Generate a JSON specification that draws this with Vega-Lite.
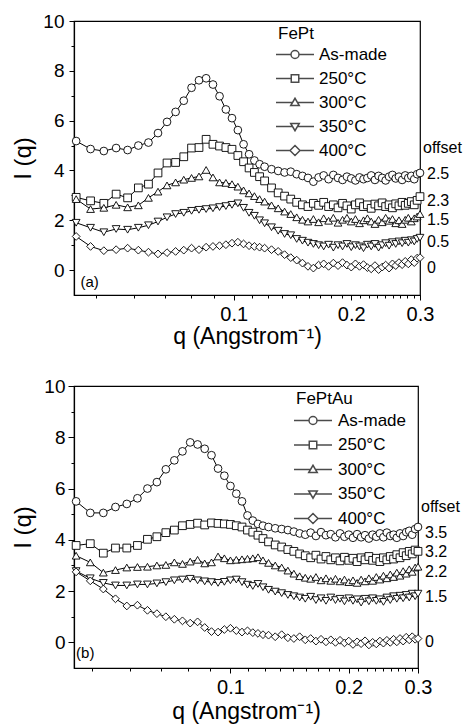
{
"$schema":"https://vega.github.io/schema/vega-lite/v6.json",
"padding":{"left":11,"top":11,"right":0,"bottom":0},
"spacing":27,
"resolve":{"scale":{"shape":"independent","x":"independent","y":"independent"},"legend":{"shape":"independent"}},
"config":{"font":"Liberation Sans","view":{"stroke":"black","strokeWidth":1.2},
"axis":{"domainColor":"black","tickColor":"black","labelColor":"black","titleColor":"black","grid":false,"labelFont":"Liberation Sans","titleFont":"Liberation Sans","titleFontWeight":"normal","domainWidth":1.2,"tickWidth":1},
"legend":{"titleFont":"Liberation Sans","labelFont":"Liberation Sans","titleColor":"black","labelColor":"black"}},
"datasets":{
"a":[
{"s":"As-made","q":0.0395,"i":5.18},{"s":"As-made","q":0.043,"i":4.86},{"s":"As-made","q":0.0465,"i":4.78},{"s":"As-made","q":0.05,"i":4.9},{"s":"As-made","q":0.0535,"i":4.82},{"s":"As-made","q":0.057,"i":5.0},{"s":"As-made","q":0.0605,"i":5.12},{"s":"As-made","q":0.064,"i":5.5},{"s":"As-made","q":0.0675,"i":5.95},{"s":"As-made","q":0.071,"i":6.35},{"s":"As-made","q":0.0745,"i":6.8},{"s":"As-made","q":0.078,"i":7.32},{"s":"As-made","q":0.0815,"i":7.62},{"s":"As-made","q":0.085,"i":7.7},{"s":"As-made","q":0.0885,"i":7.45},{"s":"As-made","q":0.092,"i":6.98},{"s":"As-made","q":0.0955,"i":6.45},{"s":"As-made","q":0.099,"i":6.1},{"s":"As-made","q":0.1025,"i":5.62},{"s":"As-made","q":0.106,"i":5.05},{"s":"As-made","q":0.1095,"i":4.65},{"s":"As-made","q":0.113,"i":4.4},{"s":"As-made","q":0.1165,"i":4.25},{"s":"As-made","q":0.12,"i":4.15},
{"s":"As-made","q":0.125,"i":4.05},{"s":"As-made","q":0.13,"i":3.98},{"s":"As-made","q":0.135,"i":3.92},{"s":"As-made","q":0.14,"i":3.95},{"s":"As-made","q":0.145,"i":3.85},{"s":"As-made","q":0.15,"i":3.78},{"s":"As-made","q":0.155,"i":3.7},{"s":"As-made","q":0.16,"i":3.55},{"s":"As-made","q":0.165,"i":3.72},{"s":"As-made","q":0.17,"i":3.8},{"s":"As-made","q":0.175,"i":3.65},{"s":"As-made","q":0.18,"i":3.82},{"s":"As-made","q":0.185,"i":3.7},{"s":"As-made","q":0.19,"i":3.62},{"s":"As-made","q":0.195,"i":3.75},{"s":"As-made","q":0.2,"i":3.68},{"s":"As-made","q":0.205,"i":3.6},{"s":"As-made","q":0.21,"i":3.72},{"s":"As-made","q":0.215,"i":3.65},{"s":"As-made","q":0.22,"i":3.7},{"s":"As-made","q":0.225,"i":3.8},{"s":"As-made","q":0.23,"i":3.62},{"s":"As-made","q":0.235,"i":3.78},{"s":"As-made","q":0.24,"i":3.7},{"s":"As-made","q":0.245,"i":3.6},{"s":"As-made","q":0.25,"i":3.75},{"s":"As-made","q":0.255,"i":3.82},{"s":"As-made","q":0.26,"i":3.68},{"s":"As-made","q":0.265,"i":3.75},{"s":"As-made","q":0.27,"i":3.62},{"s":"As-made","q":0.275,"i":3.8},{"s":"As-made","q":0.28,"i":3.7},{"s":"As-made","q":0.285,"i":3.78},{"s":"As-made","q":0.29,"i":3.65},{"s":"As-made","q":0.295,"i":3.85},{"s":"As-made","q":0.3,"i":3.9},
{"s":"250°C","q":0.0395,"i":2.92},{"s":"250°C","q":0.043,"i":2.78},{"s":"250°C","q":0.0465,"i":2.68},{"s":"250°C","q":0.05,"i":3.05},{"s":"250°C","q":0.0535,"i":2.9},{"s":"250°C","q":0.057,"i":3.3},{"s":"250°C","q":0.0605,"i":3.45},{"s":"250°C","q":0.064,"i":3.9},{"s":"250°C","q":0.0675,"i":4.3},{"s":"250°C","q":0.071,"i":4.32},{"s":"250°C","q":0.0745,"i":4.55},{"s":"250°C","q":0.078,"i":4.9},{"s":"250°C","q":0.0815,"i":4.92},{"s":"250°C","q":0.085,"i":5.25},{"s":"250°C","q":0.0885,"i":5.05},{"s":"250°C","q":0.092,"i":4.98},{"s":"250°C","q":0.0955,"i":4.92},{"s":"250°C","q":0.099,"i":4.85},{"s":"250°C","q":0.1025,"i":4.6},{"s":"250°C","q":0.106,"i":4.35},{"s":"250°C","q":0.1095,"i":4.1},{"s":"250°C","q":0.113,"i":3.92},{"s":"250°C","q":0.1165,"i":3.75},{"s":"250°C","q":0.12,"i":3.58},
{"s":"250°C","q":0.125,"i":3.3},{"s":"250°C","q":0.13,"i":3.1},{"s":"250°C","q":0.135,"i":2.97},{"s":"250°C","q":0.14,"i":2.85},{"s":"250°C","q":0.145,"i":2.72},{"s":"250°C","q":0.15,"i":2.62},{"s":"250°C","q":0.155,"i":2.55},{"s":"250°C","q":0.16,"i":2.68},{"s":"250°C","q":0.165,"i":2.6},{"s":"250°C","q":0.17,"i":2.72},{"s":"250°C","q":0.175,"i":2.55},{"s":"250°C","q":0.18,"i":2.62},{"s":"250°C","q":0.185,"i":2.5},{"s":"250°C","q":0.19,"i":2.68},{"s":"250°C","q":0.195,"i":2.58},{"s":"250°C","q":0.2,"i":2.45},{"s":"250°C","q":0.205,"i":2.62},{"s":"250°C","q":0.21,"i":2.7},{"s":"250°C","q":0.215,"i":2.55},{"s":"250°C","q":0.22,"i":2.62},{"s":"250°C","q":0.225,"i":2.48},{"s":"250°C","q":0.23,"i":2.65},{"s":"250°C","q":0.235,"i":2.58},{"s":"250°C","q":0.24,"i":2.7},{"s":"250°C","q":0.245,"i":2.55},{"s":"250°C","q":0.25,"i":2.62},{"s":"250°C","q":0.255,"i":2.5},{"s":"250°C","q":0.26,"i":2.66},{"s":"250°C","q":0.265,"i":2.58},{"s":"250°C","q":0.27,"i":2.72},{"s":"250°C","q":0.275,"i":2.6},{"s":"250°C","q":0.28,"i":2.68},{"s":"250°C","q":0.285,"i":2.75},{"s":"250°C","q":0.29,"i":2.62},{"s":"250°C","q":0.295,"i":2.8},{"s":"250°C","q":0.3,"i":2.95},
{"s":"300°C","q":0.0395,"i":2.85},{"s":"300°C","q":0.043,"i":2.45},{"s":"300°C","q":0.0465,"i":2.5},{"s":"300°C","q":0.05,"i":2.62},{"s":"300°C","q":0.0535,"i":2.52},{"s":"300°C","q":0.057,"i":2.6},{"s":"300°C","q":0.0605,"i":2.9},{"s":"300°C","q":0.064,"i":3.15},{"s":"300°C","q":0.0675,"i":3.4},{"s":"300°C","q":0.071,"i":3.52},{"s":"300°C","q":0.0745,"i":3.63},{"s":"300°C","q":0.078,"i":3.7},{"s":"300°C","q":0.0815,"i":3.76},{"s":"300°C","q":0.085,"i":4.02},{"s":"300°C","q":0.0885,"i":3.72},{"s":"300°C","q":0.092,"i":3.52},{"s":"300°C","q":0.0955,"i":3.5},{"s":"300°C","q":0.099,"i":3.45},{"s":"300°C","q":0.1025,"i":3.35},{"s":"300°C","q":0.106,"i":3.2},{"s":"300°C","q":0.1095,"i":3.08},{"s":"300°C","q":0.113,"i":2.97},{"s":"300°C","q":0.1165,"i":2.85},{"s":"300°C","q":0.12,"i":2.75},
{"s":"300°C","q":0.125,"i":2.6},{"s":"300°C","q":0.13,"i":2.48},{"s":"300°C","q":0.135,"i":2.35},{"s":"300°C","q":0.14,"i":2.25},{"s":"300°C","q":0.145,"i":2.12},{"s":"300°C","q":0.15,"i":2.02},{"s":"300°C","q":0.155,"i":1.95},{"s":"300°C","q":0.16,"i":2.05},{"s":"300°C","q":0.165,"i":1.92},{"s":"300°C","q":0.17,"i":2.08},{"s":"300°C","q":0.175,"i":1.98},{"s":"300°C","q":0.18,"i":2.1},{"s":"300°C","q":0.185,"i":1.9},{"s":"300°C","q":0.19,"i":2.02},{"s":"300°C","q":0.195,"i":2.1},{"s":"300°C","q":0.2,"i":1.95},{"s":"300°C","q":0.205,"i":2.05},{"s":"300°C","q":0.21,"i":1.88},{"s":"300°C","q":0.215,"i":2.0},{"s":"300°C","q":0.22,"i":2.08},{"s":"300°C","q":0.225,"i":1.95},{"s":"300°C","q":0.23,"i":1.85},{"s":"300°C","q":0.235,"i":2.02},{"s":"300°C","q":0.24,"i":1.92},{"s":"300°C","q":0.245,"i":2.1},{"s":"300°C","q":0.25,"i":1.98},{"s":"300°C","q":0.255,"i":2.05},{"s":"300°C","q":0.26,"i":1.88},{"s":"300°C","q":0.265,"i":2.0},{"s":"300°C","q":0.27,"i":1.85},{"s":"300°C","q":0.275,"i":2.02},{"s":"300°C","q":0.28,"i":2.1},{"s":"300°C","q":0.285,"i":1.95},{"s":"300°C","q":0.29,"i":2.08},{"s":"300°C","q":0.295,"i":2.15},{"s":"300°C","q":0.3,"i":2.25},
{"s":"350°C","q":0.0395,"i":1.9},{"s":"350°C","q":0.043,"i":1.7},{"s":"350°C","q":0.0465,"i":1.52},{"s":"350°C","q":0.05,"i":1.65},{"s":"350°C","q":0.0535,"i":1.62},{"s":"350°C","q":0.057,"i":1.7},{"s":"350°C","q":0.0605,"i":1.8},{"s":"350°C","q":0.064,"i":1.95},{"s":"350°C","q":0.0675,"i":2.12},{"s":"350°C","q":0.071,"i":2.25},{"s":"350°C","q":0.0745,"i":2.3},{"s":"350°C","q":0.078,"i":2.38},{"s":"350°C","q":0.0815,"i":2.42},{"s":"350°C","q":0.085,"i":2.45},{"s":"350°C","q":0.0885,"i":2.48},{"s":"350°C","q":0.092,"i":2.53},{"s":"350°C","q":0.0955,"i":2.57},{"s":"350°C","q":0.099,"i":2.62},{"s":"350°C","q":0.1025,"i":2.68},{"s":"350°C","q":0.106,"i":2.5},{"s":"350°C","q":0.1095,"i":2.3},{"s":"350°C","q":0.113,"i":2.18},{"s":"350°C","q":0.1165,"i":2.0},{"s":"350°C","q":0.12,"i":1.88},
{"s":"350°C","q":0.125,"i":1.72},{"s":"350°C","q":0.13,"i":1.58},{"s":"350°C","q":0.135,"i":1.45},{"s":"350°C","q":0.14,"i":1.4},{"s":"350°C","q":0.145,"i":1.25},{"s":"350°C","q":0.15,"i":1.18},{"s":"350°C","q":0.155,"i":1.1},{"s":"350°C","q":0.16,"i":1.05},{"s":"350°C","q":0.165,"i":1.0},{"s":"350°C","q":0.17,"i":0.95},{"s":"350°C","q":0.175,"i":1.02},{"s":"350°C","q":0.18,"i":0.9},{"s":"350°C","q":0.185,"i":1.0},{"s":"350°C","q":0.19,"i":0.95},{"s":"350°C","q":0.195,"i":1.05},{"s":"350°C","q":0.2,"i":0.92},{"s":"350°C","q":0.205,"i":1.0},{"s":"350°C","q":0.21,"i":0.95},{"s":"350°C","q":0.215,"i":0.88},{"s":"350°C","q":0.22,"i":1.02},{"s":"350°C","q":0.225,"i":0.95},{"s":"350°C","q":0.23,"i":1.05},{"s":"350°C","q":0.235,"i":0.9},{"s":"350°C","q":0.24,"i":1.0},{"s":"350°C","q":0.245,"i":1.08},{"s":"350°C","q":0.25,"i":0.98},{"s":"350°C","q":0.255,"i":1.12},{"s":"350°C","q":0.26,"i":1.05},{"s":"350°C","q":0.265,"i":1.15},{"s":"350°C","q":0.27,"i":1.08},{"s":"350°C","q":0.275,"i":1.18},{"s":"350°C","q":0.28,"i":1.1},{"s":"350°C","q":0.285,"i":1.2},{"s":"350°C","q":0.29,"i":1.15},{"s":"350°C","q":0.295,"i":1.25},{"s":"350°C","q":0.3,"i":1.3},
{"s":"400°C","q":0.0395,"i":1.35},{"s":"400°C","q":0.043,"i":0.95},{"s":"400°C","q":0.0465,"i":0.78},{"s":"400°C","q":0.05,"i":0.82},{"s":"400°C","q":0.0535,"i":0.88},{"s":"400°C","q":0.057,"i":0.8},{"s":"400°C","q":0.0605,"i":0.72},{"s":"400°C","q":0.064,"i":0.65},{"s":"400°C","q":0.0675,"i":0.7},{"s":"400°C","q":0.071,"i":0.75},{"s":"400°C","q":0.0745,"i":0.8},{"s":"400°C","q":0.078,"i":0.88},{"s":"400°C","q":0.0815,"i":0.82},{"s":"400°C","q":0.085,"i":0.92},{"s":"400°C","q":0.0885,"i":0.95},{"s":"400°C","q":0.092,"i":0.98},{"s":"400°C","q":0.0955,"i":1.02},{"s":"400°C","q":0.099,"i":1.08},{"s":"400°C","q":0.1025,"i":1.12},{"s":"400°C","q":0.106,"i":1.05},{"s":"400°C","q":0.1095,"i":0.98},{"s":"400°C","q":0.113,"i":0.95},{"s":"400°C","q":0.1165,"i":0.92},{"s":"400°C","q":0.12,"i":0.88},
{"s":"400°C","q":0.125,"i":0.82},{"s":"400°C","q":0.13,"i":0.75},{"s":"400°C","q":0.135,"i":0.62},{"s":"400°C","q":0.14,"i":0.5},{"s":"400°C","q":0.145,"i":0.4},{"s":"400°C","q":0.15,"i":0.28},{"s":"400°C","q":0.155,"i":0.15},{"s":"400°C","q":0.16,"i":0.08},{"s":"400°C","q":0.165,"i":0.2},{"s":"400°C","q":0.17,"i":0.25},{"s":"400°C","q":0.175,"i":0.15},{"s":"400°C","q":0.18,"i":0.28},{"s":"400°C","q":0.185,"i":0.18},{"s":"400°C","q":0.19,"i":0.3},{"s":"400°C","q":0.195,"i":0.2},{"s":"400°C","q":0.2,"i":0.12},{"s":"400°C","q":0.205,"i":0.25},{"s":"400°C","q":0.21,"i":0.15},{"s":"400°C","q":0.215,"i":0.22},{"s":"400°C","q":0.22,"i":0.1},{"s":"400°C","q":0.225,"i":0.05},{"s":"400°C","q":0.23,"i":0.18},{"s":"400°C","q":0.235,"i":0.02},{"s":"400°C","q":0.24,"i":0.12},{"s":"400°C","q":0.245,"i":0.2},{"s":"400°C","q":0.25,"i":0.08},{"s":"400°C","q":0.255,"i":0.25},{"s":"400°C","q":0.26,"i":0.18},{"s":"400°C","q":0.265,"i":0.3},{"s":"400°C","q":0.27,"i":0.22},{"s":"400°C","q":0.275,"i":0.35},{"s":"400°C","q":0.28,"i":0.25},{"s":"400°C","q":0.285,"i":0.42},{"s":"400°C","q":0.29,"i":0.3},{"s":"400°C","q":0.295,"i":0.48},{"s":"400°C","q":0.3,"i":0.5}
],
"b":[
{"s":"As-made","q":0.0405,"i":5.5},{"s":"As-made","q":0.044,"i":5.05},{"s":"As-made","q":0.0475,"i":5.05},{"s":"As-made","q":0.051,"i":5.28},{"s":"As-made","q":0.0545,"i":5.4},{"s":"As-made","q":0.058,"i":5.62},{"s":"As-made","q":0.0615,"i":6.0},{"s":"As-made","q":0.065,"i":6.25},{"s":"As-made","q":0.0685,"i":6.75},{"s":"As-made","q":0.072,"i":7.1},{"s":"As-made","q":0.0755,"i":7.45},{"s":"As-made","q":0.079,"i":7.8},{"s":"As-made","q":0.0825,"i":7.72},{"s":"As-made","q":0.086,"i":7.55},{"s":"As-made","q":0.0895,"i":7.3},{"s":"As-made","q":0.093,"i":6.78},{"s":"As-made","q":0.0965,"i":6.5},{"s":"As-made","q":0.1,"i":6.1},{"s":"As-made","q":0.1035,"i":5.8},{"s":"As-made","q":0.107,"i":5.5},{"s":"As-made","q":0.1105,"i":4.95},{"s":"As-made","q":0.114,"i":4.75},{"s":"As-made","q":0.1175,"i":4.62},{"s":"As-made","q":0.121,"i":4.55},
{"s":"As-made","q":0.125,"i":4.5},{"s":"As-made","q":0.13,"i":4.45},{"s":"As-made","q":0.135,"i":4.42},{"s":"As-made","q":0.14,"i":4.38},{"s":"As-made","q":0.145,"i":4.32},{"s":"As-made","q":0.15,"i":4.25},{"s":"As-made","q":0.155,"i":4.2},{"s":"As-made","q":0.16,"i":4.28},{"s":"As-made","q":0.165,"i":4.15},{"s":"As-made","q":0.17,"i":4.3},{"s":"As-made","q":0.175,"i":4.18},{"s":"As-made","q":0.18,"i":4.22},{"s":"As-made","q":0.185,"i":4.1},{"s":"As-made","q":0.19,"i":4.25},{"s":"As-made","q":0.195,"i":4.12},{"s":"As-made","q":0.2,"i":4.2},{"s":"As-made","q":0.205,"i":4.08},{"s":"As-made","q":0.21,"i":4.22},{"s":"As-made","q":0.215,"i":4.1},{"s":"As-made","q":0.22,"i":4.18},{"s":"As-made","q":0.225,"i":4.05},{"s":"As-made","q":0.23,"i":4.2},{"s":"As-made","q":0.235,"i":4.12},{"s":"As-made","q":0.24,"i":4.25},{"s":"As-made","q":0.245,"i":4.1},{"s":"As-made","q":0.25,"i":4.28},{"s":"As-made","q":0.255,"i":4.15},{"s":"As-made","q":0.26,"i":4.2},{"s":"As-made","q":0.265,"i":4.08},{"s":"As-made","q":0.27,"i":4.25},{"s":"As-made","q":0.275,"i":4.15},{"s":"As-made","q":0.28,"i":4.3},{"s":"As-made","q":0.285,"i":4.35},{"s":"As-made","q":0.29,"i":4.2},{"s":"As-made","q":0.295,"i":4.42},{"s":"As-made","q":0.3,"i":4.5},
{"s":"250°C","q":0.0405,"i":3.78},{"s":"250°C","q":0.044,"i":3.85},{"s":"250°C","q":0.0475,"i":3.48},{"s":"250°C","q":0.051,"i":3.68},{"s":"250°C","q":0.0545,"i":3.68},{"s":"250°C","q":0.058,"i":3.78},{"s":"250°C","q":0.0615,"i":4.02},{"s":"250°C","q":0.065,"i":4.12},{"s":"250°C","q":0.0685,"i":4.28},{"s":"250°C","q":0.072,"i":4.38},{"s":"250°C","q":0.0755,"i":4.55},{"s":"250°C","q":0.079,"i":4.6},{"s":"250°C","q":0.0825,"i":4.65},{"s":"250°C","q":0.086,"i":4.58},{"s":"250°C","q":0.0895,"i":4.66},{"s":"250°C","q":0.093,"i":4.64},{"s":"250°C","q":0.0965,"i":4.62},{"s":"250°C","q":0.1,"i":4.6},{"s":"250°C","q":0.1035,"i":4.55},{"s":"250°C","q":0.107,"i":4.5},{"s":"250°C","q":0.1105,"i":4.38},{"s":"250°C","q":0.114,"i":4.3},{"s":"250°C","q":0.1175,"i":4.18},{"s":"250°C","q":0.121,"i":4.05},
{"s":"250°C","q":0.125,"i":3.92},{"s":"250°C","q":0.13,"i":3.8},{"s":"250°C","q":0.135,"i":3.72},{"s":"250°C","q":0.14,"i":3.62},{"s":"250°C","q":0.145,"i":3.55},{"s":"250°C","q":0.15,"i":3.45},{"s":"250°C","q":0.155,"i":3.38},{"s":"250°C","q":0.16,"i":3.3},{"s":"250°C","q":0.165,"i":3.4},{"s":"250°C","q":0.17,"i":3.25},{"s":"250°C","q":0.175,"i":3.35},{"s":"250°C","q":0.18,"i":3.22},{"s":"250°C","q":0.185,"i":3.3},{"s":"250°C","q":0.19,"i":3.18},{"s":"250°C","q":0.195,"i":3.32},{"s":"250°C","q":0.2,"i":3.2},{"s":"250°C","q":0.205,"i":3.28},{"s":"250°C","q":0.21,"i":3.15},{"s":"250°C","q":0.215,"i":3.3},{"s":"250°C","q":0.22,"i":3.22},{"s":"250°C","q":0.225,"i":3.35},{"s":"250°C","q":0.23,"i":3.2},{"s":"250°C","q":0.235,"i":3.28},{"s":"250°C","q":0.24,"i":3.15},{"s":"250°C","q":0.245,"i":3.3},{"s":"250°C","q":0.25,"i":3.22},{"s":"250°C","q":0.255,"i":3.35},{"s":"250°C","q":0.26,"i":3.25},{"s":"250°C","q":0.265,"i":3.42},{"s":"250°C","q":0.27,"i":3.3},{"s":"250°C","q":0.275,"i":3.5},{"s":"250°C","q":0.28,"i":3.38},{"s":"250°C","q":0.285,"i":3.55},{"s":"250°C","q":0.29,"i":3.45},{"s":"250°C","q":0.295,"i":3.6},{"s":"250°C","q":0.3,"i":3.55},
{"s":"300°C","q":0.0405,"i":3.38},{"s":"300°C","q":0.044,"i":3.12},{"s":"300°C","q":0.0475,"i":2.72},{"s":"300°C","q":0.051,"i":2.82},{"s":"300°C","q":0.0545,"i":2.92},{"s":"300°C","q":0.058,"i":2.94},{"s":"300°C","q":0.0615,"i":2.95},{"s":"300°C","q":0.065,"i":3.0},{"s":"300°C","q":0.0685,"i":3.02},{"s":"300°C","q":0.072,"i":3.12},{"s":"300°C","q":0.0755,"i":3.06},{"s":"300°C","q":0.079,"i":3.15},{"s":"300°C","q":0.0825,"i":3.22},{"s":"300°C","q":0.086,"i":3.08},{"s":"300°C","q":0.0895,"i":3.12},{"s":"300°C","q":0.093,"i":3.35},{"s":"300°C","q":0.0965,"i":3.28},{"s":"300°C","q":0.1,"i":3.2},{"s":"300°C","q":0.1035,"i":3.22},{"s":"300°C","q":0.107,"i":3.24},{"s":"300°C","q":0.1105,"i":3.26},{"s":"300°C","q":0.114,"i":3.28},{"s":"300°C","q":0.1175,"i":3.32},{"s":"300°C","q":0.121,"i":3.2},
{"s":"300°C","q":0.125,"i":3.1},{"s":"300°C","q":0.13,"i":3.0},{"s":"300°C","q":0.135,"i":2.92},{"s":"300°C","q":0.14,"i":2.8},{"s":"300°C","q":0.145,"i":2.68},{"s":"300°C","q":0.15,"i":2.58},{"s":"300°C","q":0.155,"i":2.52},{"s":"300°C","q":0.16,"i":2.48},{"s":"300°C","q":0.165,"i":2.55},{"s":"300°C","q":0.17,"i":2.42},{"s":"300°C","q":0.175,"i":2.5},{"s":"300°C","q":0.18,"i":2.4},{"s":"300°C","q":0.185,"i":2.48},{"s":"300°C","q":0.19,"i":2.38},{"s":"300°C","q":0.195,"i":2.45},{"s":"300°C","q":0.2,"i":2.35},{"s":"300°C","q":0.205,"i":2.42},{"s":"300°C","q":0.21,"i":2.32},{"s":"300°C","q":0.215,"i":2.45},{"s":"300°C","q":0.22,"i":2.38},{"s":"300°C","q":0.225,"i":2.5},{"s":"300°C","q":0.23,"i":2.4},{"s":"300°C","q":0.235,"i":2.55},{"s":"300°C","q":0.24,"i":2.45},{"s":"300°C","q":0.245,"i":2.6},{"s":"300°C","q":0.25,"i":2.5},{"s":"300°C","q":0.255,"i":2.65},{"s":"300°C","q":0.26,"i":2.55},{"s":"300°C","q":0.265,"i":2.72},{"s":"300°C","q":0.27,"i":2.6},{"s":"300°C","q":0.275,"i":2.78},{"s":"300°C","q":0.28,"i":2.68},{"s":"300°C","q":0.285,"i":2.85},{"s":"300°C","q":0.29,"i":2.75},{"s":"300°C","q":0.295,"i":2.92},{"s":"300°C","q":0.3,"i":2.95},
{"s":"350°C","q":0.0405,"i":2.78},{"s":"350°C","q":0.044,"i":2.5},{"s":"350°C","q":0.0475,"i":2.32},{"s":"350°C","q":0.051,"i":2.22},{"s":"350°C","q":0.0545,"i":2.22},{"s":"350°C","q":0.058,"i":2.26},{"s":"350°C","q":0.0615,"i":2.26},{"s":"350°C","q":0.065,"i":2.3},{"s":"350°C","q":0.0685,"i":2.35},{"s":"350°C","q":0.072,"i":2.42},{"s":"350°C","q":0.0755,"i":2.45},{"s":"350°C","q":0.079,"i":2.48},{"s":"350°C","q":0.0825,"i":2.42},{"s":"350°C","q":0.086,"i":2.38},{"s":"350°C","q":0.0895,"i":2.35},{"s":"350°C","q":0.093,"i":2.32},{"s":"350°C","q":0.0965,"i":2.36},{"s":"350°C","q":0.1,"i":2.42},{"s":"350°C","q":0.1035,"i":2.45},{"s":"350°C","q":0.107,"i":2.35},{"s":"350°C","q":0.1105,"i":2.25},{"s":"350°C","q":0.114,"i":2.2},{"s":"350°C","q":0.1175,"i":2.28},{"s":"350°C","q":0.121,"i":2.15},
{"s":"350°C","q":0.125,"i":2.05},{"s":"350°C","q":0.13,"i":1.98},{"s":"350°C","q":0.135,"i":1.92},{"s":"350°C","q":0.14,"i":1.85},{"s":"350°C","q":0.145,"i":1.8},{"s":"350°C","q":0.15,"i":1.75},{"s":"350°C","q":0.155,"i":1.7},{"s":"350°C","q":0.16,"i":1.78},{"s":"350°C","q":0.165,"i":1.65},{"s":"350°C","q":0.17,"i":1.72},{"s":"350°C","q":0.175,"i":1.62},{"s":"350°C","q":0.18,"i":1.75},{"s":"350°C","q":0.185,"i":1.65},{"s":"350°C","q":0.19,"i":1.7},{"s":"350°C","q":0.195,"i":1.6},{"s":"350°C","q":0.2,"i":1.72},{"s":"350°C","q":0.205,"i":1.62},{"s":"350°C","q":0.21,"i":1.68},{"s":"350°C","q":0.215,"i":1.55},{"s":"350°C","q":0.22,"i":1.7},{"s":"350°C","q":0.225,"i":1.6},{"s":"350°C","q":0.23,"i":1.72},{"s":"350°C","q":0.235,"i":1.62},{"s":"350°C","q":0.24,"i":1.68},{"s":"350°C","q":0.245,"i":1.58},{"s":"350°C","q":0.25,"i":1.75},{"s":"350°C","q":0.255,"i":1.65},{"s":"350°C","q":0.26,"i":1.8},{"s":"350°C","q":0.265,"i":1.7},{"s":"350°C","q":0.27,"i":1.82},{"s":"350°C","q":0.275,"i":1.72},{"s":"350°C","q":0.28,"i":1.85},{"s":"350°C","q":0.285,"i":1.75},{"s":"350°C","q":0.29,"i":1.9},{"s":"350°C","q":0.295,"i":1.8},{"s":"350°C","q":0.3,"i":1.9},
{"s":"400°C","q":0.0405,"i":2.75},{"s":"400°C","q":0.044,"i":2.4},{"s":"400°C","q":0.0475,"i":2.08},{"s":"400°C","q":0.051,"i":1.7},{"s":"400°C","q":0.0545,"i":1.42},{"s":"400°C","q":0.058,"i":1.45},{"s":"400°C","q":0.0615,"i":1.25},{"s":"400°C","q":0.065,"i":1.12},{"s":"400°C","q":0.0685,"i":1.0},{"s":"400°C","q":0.072,"i":0.9},{"s":"400°C","q":0.0755,"i":0.84},{"s":"400°C","q":0.079,"i":0.75},{"s":"400°C","q":0.0825,"i":0.8},{"s":"400°C","q":0.086,"i":0.58},{"s":"400°C","q":0.0895,"i":0.42},{"s":"400°C","q":0.093,"i":0.4},{"s":"400°C","q":0.0965,"i":0.5},{"s":"400°C","q":0.1,"i":0.55},{"s":"400°C","q":0.1035,"i":0.46},{"s":"400°C","q":0.107,"i":0.4},{"s":"400°C","q":0.1105,"i":0.45},{"s":"400°C","q":0.114,"i":0.38},{"s":"400°C","q":0.1175,"i":0.35},{"s":"400°C","q":0.121,"i":0.3},
{"s":"400°C","q":0.125,"i":0.28},{"s":"400°C","q":0.13,"i":0.22},{"s":"400°C","q":0.135,"i":0.3},{"s":"400°C","q":0.14,"i":0.18},{"s":"400°C","q":0.145,"i":0.15},{"s":"400°C","q":0.15,"i":0.22},{"s":"400°C","q":0.155,"i":0.1},{"s":"400°C","q":0.16,"i":0.15},{"s":"400°C","q":0.165,"i":0.05},{"s":"400°C","q":0.17,"i":0.12},{"s":"400°C","q":0.175,"i":0.02},{"s":"400°C","q":0.18,"i":0.1},{"s":"400°C","q":0.185,"i":0.0},{"s":"400°C","q":0.19,"i":0.08},{"s":"400°C","q":0.195,"i":-0.02},{"s":"400°C","q":0.2,"i":0.05},{"s":"400°C","q":0.205,"i":-0.08},{"s":"400°C","q":0.21,"i":0.02},{"s":"400°C","q":0.215,"i":-0.05},{"s":"400°C","q":0.22,"i":0.06},{"s":"400°C","q":0.225,"i":-0.1},{"s":"400°C","q":0.23,"i":0.0},{"s":"400°C","q":0.235,"i":-0.06},{"s":"400°C","q":0.24,"i":0.05},{"s":"400°C","q":0.245,"i":-0.03},{"s":"400°C","q":0.25,"i":0.08},{"s":"400°C","q":0.255,"i":0.0},{"s":"400°C","q":0.26,"i":0.12},{"s":"400°C","q":0.265,"i":0.02},{"s":"400°C","q":0.27,"i":0.15},{"s":"400°C","q":0.275,"i":0.05},{"s":"400°C","q":0.28,"i":0.2},{"s":"400°C","q":0.285,"i":0.1},{"s":"400°C","q":0.29,"i":0.22},{"s":"400°C","q":0.295,"i":0.12},{"s":"400°C","q":0.3,"i":0.15}
],
"offa":[{"t":"2.5","i":3.86},{"t":"2.3","i":2.77},{"t":"1.5","i":2.0},{"t":"0.5","i":1.12},{"t":"0","i":0.08}],
"offb":[{"t":"3.5","i":4.27},{"t":"3.2","i":3.53},{"t":"2.2","i":2.75},{"t":"1.5","i":1.76},{"t":"0","i":0.0}]
},
"vconcat":[
{
"width":346,"height":274,
"resolve":{"axis":{"x":"independent","y":"independent"},"scale":{"shape":"independent"},"legend":{"shape":"independent"}},
"layer":[
{"data":{"name":"a"},"mark":{"type":"line","color":"black","strokeWidth":1},
"encoding":{
"x":{"field":"q","type":"quantitative","scale":{"type":"log","domain":[0.039,0.3],"nice":false},"axis":{"orient":"bottom","values":[0.1,0.2,0.3],"format":".1f","title":"q (Angstrom⁻¹)","labelFontSize":20,"titleFontSize":23,"tickSize":5,"labelPadding":4,"titlePadding":1,"labelFlush":false}},
"y":{"field":"i","type":"quantitative","scale":{"domain":[-1,10],"nice":false,"zero":false},"axis":{"orient":"left","values":[0,2,4,6,8,10],"title":"I (q)","labelFontSize":19,"titleFontSize":24,"tickSize":5,"labelPadding":5,"titlePadding":7}},
"detail":{"field":"s"}}},
{"data":{"name":"a"},"mark":{"type":"point","filled":true,"fill":"white","stroke":"black","strokeWidth":0.9,"size":60,"opacity":1},
"encoding":{
"x":{"field":"q","type":"quantitative","scale":{"type":"log","domain":[0.039,0.3],"nice":false},"axis":{"orient":"bottom","values":[0.04444,0.05556,0.06667,0.07778,0.08889,0.11111,0.12222,0.13333,0.14444,0.15556,0.16667,0.17778,0.18889,0.21111,0.22222,0.23333,0.24444,0.25556,0.26667,0.27778,0.28889],"labels":false,"tickSize":3,"title":null,"domain":false}},
"y":{"field":"i","type":"quantitative","scale":{"domain":[-1,10],"nice":false,"zero":false},"axis":{"orient":"left","values":[1,3,5,7,9],"labels":false,"tickSize":3,"title":null,"domain":false}},
"shape":{"field":"s","type":"nominal","scale":{"domain":["As-made","250°C","300°C","350°C","400°C"],"range":["circle","square","triangle-up","triangle-down","diamond"]},"legend":null}}},
{"data":{"name":"a"},"transform":[{"filter":"false"}],"mark":{"type":"point","color":"black","strokeWidth":1},
"encoding":{
"x":{"field":"q","type":"quantitative","scale":{"type":"log","domain":[0.039,0.3],"nice":false},"axis":null},
"y":{"field":"i","type":"quantitative","scale":{"domain":[-1,10],"nice":false,"zero":false},"axis":null},
"shape":{"field":"s","type":"nominal","scale":{"domain":["As-made","250°C","300°C","350°C","400°C"],"range":["M-2.1,0H0.9M2.5,0H5.5M0.9,0A0.8,0.8,0,1,0,2.5,0A0.8,0.8,0,1,0,0.9,0Z","M-2.1,0H0.95M2.45,0H5.5M0.95,-0.75H2.45V0.75H0.95Z","M-2.1,0H1.2M2.2,0H5.5M0.85,0.6L1.7,-0.85L2.55,0.6Z","M-2.1,0H1.2M2.2,0H5.5M0.85,-0.6L1.7,0.85L2.55,-0.6Z","M-2.1,0H0.7M2.7,0H5.5M1.7,-1L2.7,0L1.7,1L0.7,0Z"]},
"legend":{"orient":"none","legendX":204,"legendY":5,"title":"FePt","titleFontSize":17,"titleFontWeight":"normal","titlePadding":3,"labelFontSize":17,"labelOffset":24,"rowPadding":6}}}},
{"data":{"values":[{"t":"(a)"}]},"mark":{"type":"text","align":"left","baseline":"middle","fontSize":15},
"encoding":{"x":{"datum":0.0405,"type":"quantitative","scale":{"type":"log","domain":[0.039,0.3],"nice":false},"axis":null},"y":{"datum":-0.48,"type":"quantitative","scale":{"domain":[-1,10],"nice":false,"zero":false},"axis":null},"text":{"field":"t"}}},
{"data":{"values":[{"t":"offset","i":4.9}]},"mark":{"type":"text","align":"left","baseline":"middle","fontSize":16,"dx":3},
"encoding":{"x":{"datum":0.3,"type":"quantitative","scale":{"type":"log","domain":[0.039,0.3],"nice":false},"axis":null},"y":{"field":"i","type":"quantitative","scale":{"domain":[-1,10],"nice":false,"zero":false},"axis":null},"text":{"field":"t"}}},
{"data":{"name":"offa"},"mark":{"type":"text","align":"left","baseline":"middle","fontSize":16,"dx":7},
"encoding":{"x":{"datum":0.3,"type":"quantitative","scale":{"type":"log","domain":[0.039,0.3],"nice":false},"axis":null},"y":{"field":"i","type":"quantitative","scale":{"domain":[-1,10],"nice":false,"zero":false},"axis":null},"text":{"field":"t"}}}
]
},
{
"width":344,"height":282,
"resolve":{"axis":{"x":"independent","y":"independent"},"scale":{"shape":"independent"},"legend":{"shape":"independent"}},
"layer":[
{"data":{"name":"b"},"mark":{"type":"line","color":"black","strokeWidth":1},
"encoding":{
"x":{"field":"q","type":"quantitative","scale":{"type":"log","domain":[0.04,0.3],"nice":false},"axis":{"orient":"bottom","values":[0.1,0.2,0.3],"format":".1f","title":"q (Angstrom⁻¹)","labelFontSize":20,"titleFontSize":23,"tickSize":5,"labelPadding":4,"titlePadding":3,"labelFlush":false}},
"y":{"field":"i","type":"quantitative","scale":{"domain":[-1,10],"nice":false,"zero":false},"axis":{"orient":"left","values":[0,2,4,6,8,10],"title":"I (q)","labelFontSize":19,"titleFontSize":24,"tickSize":6,"labelPadding":3,"titlePadding":8}},
"detail":{"field":"s"}}},
{"data":{"name":"b"},"mark":{"type":"point","filled":true,"fill":"white","stroke":"black","strokeWidth":0.9,"size":60,"opacity":1},
"encoding":{
"x":{"field":"q","type":"quantitative","scale":{"type":"log","domain":[0.04,0.3],"nice":false},"axis":{"orient":"bottom","values":[0.04444,0.05556,0.06667,0.07778,0.08889,0.11111,0.12222,0.13333,0.14444,0.15556,0.16667,0.17778,0.18889,0.21111,0.22222,0.23333,0.24444,0.25556,0.26667,0.27778,0.28889],"labels":false,"tickSize":3,"title":null,"domain":false}},
"y":{"field":"i","type":"quantitative","scale":{"domain":[-1,10],"nice":false,"zero":false},"axis":{"orient":"left","values":[1,3,5,7,9],"labels":false,"tickSize":3,"title":null,"domain":false}},
"shape":{"field":"s","type":"nominal","scale":{"domain":["As-made","250°C","300°C","350°C","400°C"],"range":["circle","square","triangle-up","triangle-down","diamond"]},"legend":null}}},
{"data":{"name":"b"},"transform":[{"filter":"false"}],"mark":{"type":"point","color":"black","strokeWidth":1},
"encoding":{
"x":{"field":"q","type":"quantitative","scale":{"type":"log","domain":[0.04,0.3],"nice":false},"axis":null},
"y":{"field":"i","type":"quantitative","scale":{"domain":[-1,10],"nice":false,"zero":false},"axis":null},
"shape":{"field":"s","type":"nominal","scale":{"domain":["As-made","250°C","300°C","350°C","400°C"],"range":["M-2.1,0H0.9M2.5,0H5.5M0.9,0A0.8,0.8,0,1,0,2.5,0A0.8,0.8,0,1,0,0.9,0Z","M-2.1,0H0.95M2.45,0H5.5M0.95,-0.75H2.45V0.75H0.95Z","M-2.1,0H1.2M2.2,0H5.5M0.85,0.6L1.7,-0.85L2.55,0.6Z","M-2.1,0H1.2M2.2,0H5.5M0.85,-0.6L1.7,0.85L2.55,-0.6Z","M-2.1,0H0.7M2.7,0H5.5M1.7,-1L2.7,0L1.7,1L0.7,0Z"]},
"legend":{"orient":"none","legendX":222,"legendY":5,"title":"FePtAu","titleFontSize":17,"titleFontWeight":"normal","titlePadding":4,"labelFontSize":17,"labelOffset":25,"rowPadding":6.5}}}},
{"data":{"values":[{"t":"(b)"}]},"mark":{"type":"text","align":"left","baseline":"middle","fontSize":15},
"encoding":{"x":{"datum":0.0405,"type":"quantitative","scale":{"type":"log","domain":[0.04,0.3],"nice":false},"axis":null},"y":{"datum":-0.4,"type":"quantitative","scale":{"domain":[-1,10],"nice":false,"zero":false},"axis":null},"text":{"field":"t"}}},
{"data":{"values":[{"t":"offset","i":5.29}]},"mark":{"type":"text","align":"left","baseline":"middle","fontSize":16,"dx":3},
"encoding":{"x":{"datum":0.3,"type":"quantitative","scale":{"type":"log","domain":[0.04,0.3],"nice":false},"axis":null},"y":{"field":"i","type":"quantitative","scale":{"domain":[-1,10],"nice":false,"zero":false},"axis":null},"text":{"field":"t"}}},
{"data":{"name":"offb"},"mark":{"type":"text","align":"left","baseline":"middle","fontSize":16,"dx":7},
"encoding":{"x":{"datum":0.3,"type":"quantitative","scale":{"type":"log","domain":[0.04,0.3],"nice":false},"axis":null},"y":{"field":"i","type":"quantitative","scale":{"domain":[-1,10],"nice":false,"zero":false},"axis":null},"text":{"field":"t"}}}
]
}
]
}
